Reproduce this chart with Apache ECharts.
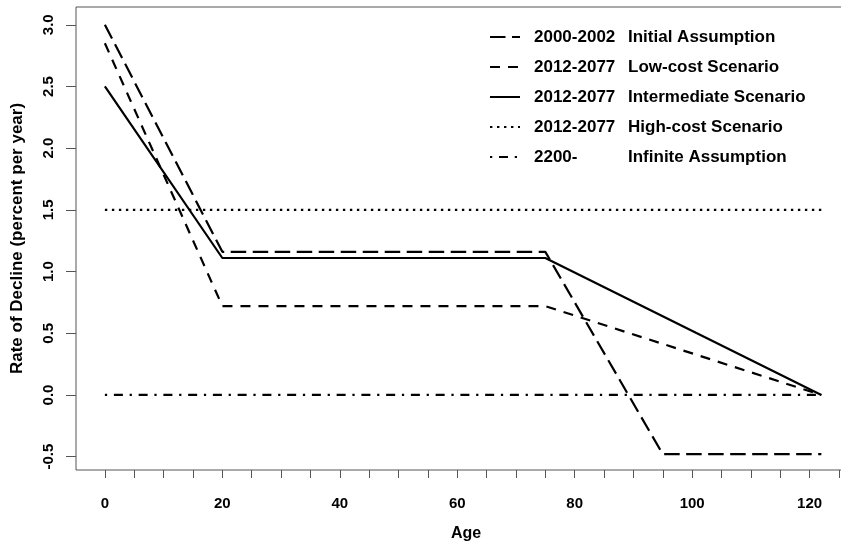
<!DOCTYPE html>
<html>
<head>
<meta charset="utf-8">
<script src="https://cdn.jsdelivr.net/npm/echarts@6/dist/echarts.min.js"></script>
<style>html,body{margin:0;padding:0;background:#fff;}#c{width:841px;height:544px;}</style>
</head>
<body>
<div id="c"></div>
<script>
// ---- data ----
const initialAges = [0, 20, 75, 95, 122];
const initialVals = [3.0, 1.16, 1.16, -0.48, -0.48];
const lowAges = [0, 20, 75, 122];
const lowVals = [2.85, 0.72, 0.72, 0.0];
const interAges = [0, 20, 75, 122];
const interVals = [2.5, 1.11, 1.11, 0.0];
const highAges = [0, 122];
const highVals = [1.5, 1.5];
const infAges = [0, 122];
const infVals = [0.0, 0.0];

const seriesYears = ['2000-2002', '2012-2077', '2012-2077', '2012-2077', '2200-'];
const seriesNames = ['Initial Assumption', 'Low-cost Scenario', 'Intermediate Scenario', 'High-cost Scenario', 'Infinite Assumption'];

const xTickLabels = [0, 20, 40, 60, 80, 100, 120];
const xTickMarks = [0, 5, 10, 15, 20, 25, 30, 35, 40, 45, 50, 55, 60, 65, 70, 75, 80, 85, 90, 95, 100, 105, 110, 115, 120, 125];
const yTickLabels = [-0.5, 0.0, 0.5, 1.0, 1.5, 2.0, 2.5, 3.0];

// ---- chart ----
const FONT = 'Liberation Sans, Arial, sans-serif';
const zip = (a, b) => a.map((v, i) => [v, b[i]]);
const dashes = [[15.5, 6.5], [10, 8], null, [2.4, 4.6], [2.25, 6.75, 9, 6.75]];
const allData = [zip(initialAges, initialVals), zip(lowAges, lowVals), zip(interAges, interVals), zip(highAges, highVals), zip(infAges, infVals)];
const keys = seriesNames.map((n, i) => seriesYears[i] + ' ' + n);

const chart = echarts.init(document.getElementById('c'), null, {renderer: 'canvas'});
chart.setOption({
  animation: false,
  backgroundColor: '#ffffff',
  grid: {left: 76, top: 7, right: -15, bottom: 74, show: true, borderColor: '#555', borderWidth: 1,
    backgroundColor: 'transparent', containLabel: false, outerBoundsMode: 'none'},
  xAxis: {
    type: 'value', min: -4.92, max: 127.9,
    name: 'Age', nameLocation: 'middle', nameGap: 56, nameMoveOverlap: false,
    nameTextStyle: {fontFamily: FONT, fontWeight: 'bold', fontSize: 16, color: '#000'},
    axisLine: {show: false, onZero: false},
    splitLine: {show: false},
    axisTick: {show: true, customValues: xTickMarks, length: 8, lineStyle: {color: '#555', width: 1}},
    axisLabel: {customValues: xTickLabels, margin: 26, fontFamily: FONT, fontWeight: 'bold', fontSize: 15, color: '#000'}
  },
  yAxis: {
    type: 'value', min: -0.608, max: 3.144,
    name: 'Rate of Decline (percent per year)', nameLocation: 'middle', nameGap: 50, nameMoveOverlap: false,
    nameTextStyle: {fontFamily: FONT, fontWeight: 'bold', fontSize: 17, color: '#000'},
    axisLine: {show: false, onZero: false},
    splitLine: {show: false},
    axisTick: {show: true, customValues: yTickLabels, length: 10, lineStyle: {color: '#555', width: 1}},
    axisLabel: {customValues: yTickLabels, rotate: 90, margin: 20, fontFamily: FONT, fontWeight: 'bold', fontSize: 15, color: '#000',
      formatter: v => v.toFixed(1)}
  },
  legend: {
    orient: 'vertical', left: 489, top: 27, padding: 0, itemWidth: 30, itemHeight: 14, itemGap: 10,
    data: keys,
    itemStyle: {opacity: 0, borderWidth: 0},
    formatter: name => {
      const i = keys.indexOf(name);
      return '{a|' + seriesYears[i] + '}{b|' + seriesNames[i] + '}';
    },
    textStyle: {
      fontFamily: FONT, fontWeight: 'bold', fontSize: 17, color: '#000', lineHeight: 20,
      rich: {
        a: {fontFamily: FONT, fontWeight: 'bold', fontSize: 17, color: '#000', width: 94, padding: [0, 0, 0, 9], lineHeight: 20},
        b: {fontFamily: FONT, fontWeight: 'bold', fontSize: 17, color: '#000', lineHeight: 20}
      }
    }
  },
  series: allData.map((d, i) => ({
    name: keys[i],
    type: 'line',
    data: d,
    symbol: 'none',
    showSymbol: false,
    lineStyle: {color: '#000', width: 2.2, type: dashes[i] || 'solid', cap: 'butt'},
    itemStyle: {color: '#000'},
    emphasis: {disabled: true},
    silent: true
  }))
});
</script>
</body>
</html>
